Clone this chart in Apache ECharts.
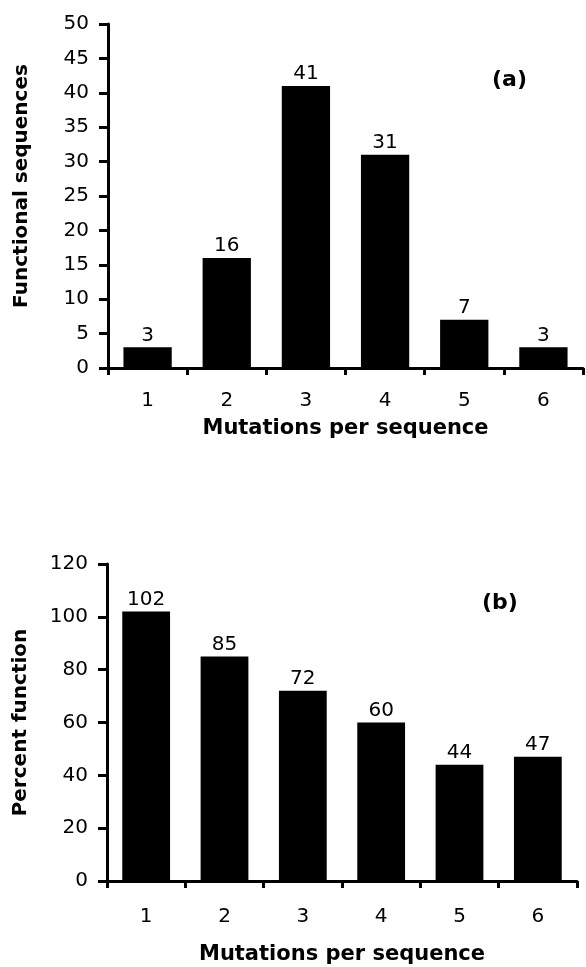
<!DOCTYPE html>
<html style="height: 100%;">
<head>
    <meta charset="utf-8">
    <title>Mutations per sequence</title>
    <script src="https://cdn.jsdelivr.net/npm/echarts@6/dist/echarts.min.js"></script>
</head>
<body style="height: 100%; margin: 0; background: #fff;">
    <div id="chart" style="width: 586px; height: 967px;"></div>
<script>
    // x categories shared by both panels
    var mutations = ['1', '2', '3', '4', '5', '6'];
    // panel (a): number of functional sequences
    var functionalSeqs = [3, 16, 41, 31, 7, 3];
    // panel (b): percent function
    var percentFunction = [102, 85, 72, 60, 44, 47];

    var font = 'DejaVu Sans, Arial, sans-serif';

    function xAxis(idx, gap, labelGap) {
        return {
            type: 'category',
            gridIndex: idx,
            data: mutations,
            name: 'Mutations per sequence',
            nameLocation: 'middle',
            nameGap: gap,
            nameTextStyle: { color: '#000', fontFamily: font, fontWeight: 'bold', fontSize: 21 },
            axisLine: { lineStyle: { color: '#000', width: 3 } },
            axisTick: { show: true, interval: 0, length: 7, lineStyle: { color: '#000', width: 3 } },
            axisLabel: { color: '#000', fontFamily: font, fontSize: 20, margin: labelGap }
        };
    }

    function yAxis(idx, name, max, step, shift) {
        return {
            type: 'value',
            gridIndex: idx,
            min: 0,
            max: max,
            interval: step,
            name: name,
            nameLocation: 'middle',
            nameGap: 76,
            nameTextStyle: { color: '#000', fontFamily: font, fontWeight: 'bold', fontSize: 20, padding: [0, 0, 0, shift] },
            axisLine: { show: true, lineStyle: { color: '#000', width: 3 } },
            axisTick: { show: true, length: 9, lineStyle: { color: '#000', width: 3 } },
            axisLabel: { color: '#000', fontFamily: font, fontSize: 20, margin: 19 },
            splitLine: { show: false }
        };
    }

    function bars(idx, values) {
        return {
            type: 'bar',
            xAxisIndex: idx,
            yAxisIndex: idx,
            data: values,
            barWidth: '61%',
            itemStyle: { color: '#000' },
            label: { show: true, position: 'top', distance: 2, color: '#000', fontFamily: font, fontSize: 20 }
        };
    }

    var chart = echarts.init(document.getElementById('chart'));
    chart.setOption({
        animation: false,
        backgroundColor: '#fff',
        title: [
            { text: '(a)', left: 492, top: 69, padding: 0, textStyle: { color: '#000', fontFamily: font, fontWeight: 'bold', fontSize: 22 } },
            { text: '(b)', left: 482, top: 592, padding: 0, textStyle: { color: '#000', fontFamily: font, fontWeight: 'bold', fontSize: 22 } }
        ],
        grid: [
            { left: 108, right: 3, top: 24, height: 344 },
            { left: 107, right: 9, top: 564, height: 317 }
        ],
        xAxis: [xAxis(0, 50, 23), xAxis(1, 63, 26)],
        yAxis: [
            yAxis(0, 'Functional sequences', 50, 5, 20),
            yAxis(1, 'Percent function', 120, 20, 0)
        ],
        series: [bars(0, functionalSeqs), bars(1, percentFunction)]
    });
</script>
</body>
</html>
